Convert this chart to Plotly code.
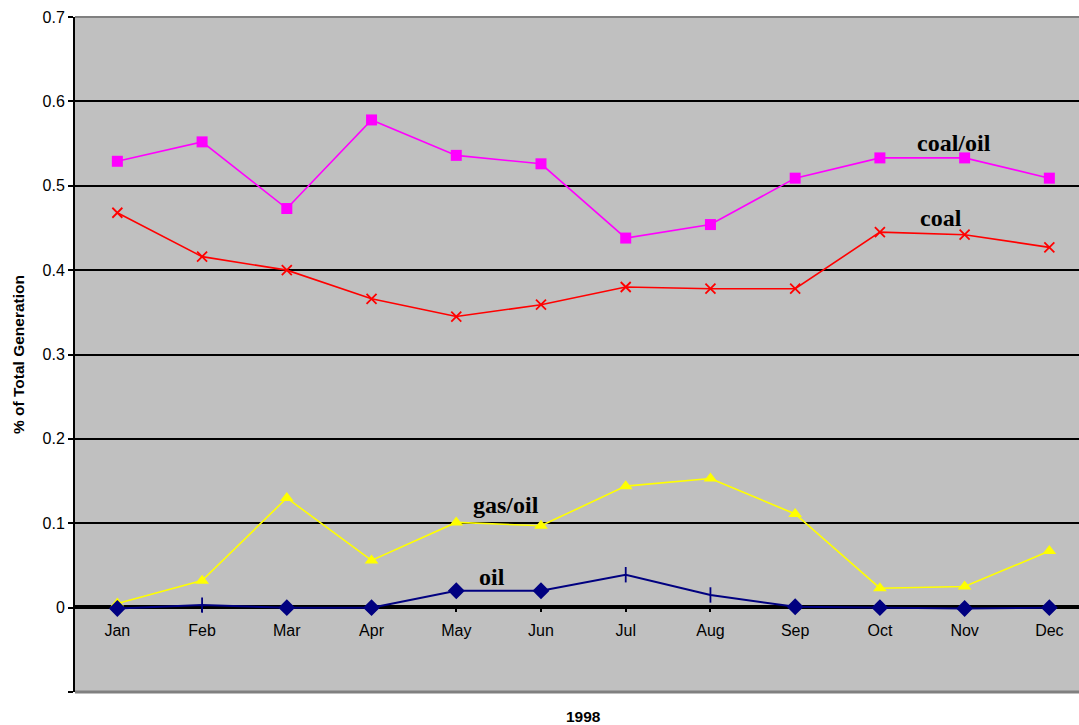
import plotly.graph_objects as go

months = ["Jan", "Feb", "Mar", "Apr", "May", "Jun",
          "Jul", "Aug", "Sep", "Oct", "Nov", "Dec"]

coal_oil = [0.529, 0.552, 0.473, 0.578, 0.536, 0.526,
            0.438, 0.454, 0.509, 0.533, 0.533, 0.509]
coal = [0.468, 0.416, 0.400, 0.366, 0.345, 0.359,
        0.380, 0.378, 0.378, 0.445, 0.442, 0.427]
gas_oil = [0.005, 0.032, 0.130, 0.056, 0.101, 0.097,
           0.144, 0.153, 0.111, 0.023, 0.025, 0.067]
oil = [-0.001, 0.003, 0.000, 0.000, 0.020, 0.020,
       0.039, 0.015, 0.001, 0.000, -0.001, 0.000]

y_ticks = [-0.1, 0, 0.1, 0.2, 0.3, 0.4, 0.5, 0.6, 0.7]
y_tick_text = ["", "0", "0.1", "0.2", "0.3", "0.4", "0.5", "0.6", "0.7"]

x_idx = list(range(len(months)))

# per-point marker shapes for the oil series
oil_symbols = ["diamond", "line-ns", "diamond", "diamond", "diamond", "diamond",
               "line-ns", "line-ns", "diamond", "diamond", "diamond", "diamond"]

fig = go.Figure()

fig.add_trace(go.Scatter(
    x=x_idx, y=coal_oil, mode="lines+markers", name="coal/oil",
    line=dict(color="#FF00FF", width=1.6),
    marker=dict(symbol="square", size=11, color="#FF00FF"),
))
fig.add_trace(go.Scatter(
    x=x_idx, y=coal, mode="lines+markers", name="coal",
    line=dict(color="#FF0000", width=1.6),
    marker=dict(symbol="x-thin", size=10, line=dict(color="#FF0000", width=1.8)),
))
fig.add_trace(go.Scatter(
    x=x_idx, y=gas_oil, mode="lines+markers", name="gas/oil",
    line=dict(color="#FFFF00", width=1.6),
    marker=dict(symbol="triangle-up", size=12, color="#FFFF00"),
))
fig.add_trace(go.Scatter(
    x=x_idx, y=oil, mode="lines+markers", name="oil",
    line=dict(color="#000080", width=2),
    marker=dict(symbol=oil_symbols, size=11, color="#000080",
                line=dict(color="#000080", width=1.8)),
))

label_font = dict(family="Liberation Serif", size=24, color="black")
series_labels = [("coal/oil", 9.88, 0.551), ("coal", 9.72, 0.462),
                 ("gas/oil", 4.59, 0.122), ("oil", 4.42, 0.036)]
for text, xv, yv in series_labels:
    fig.add_annotation(x=xv, y=yv, xref="x", yref="y", text="<b>%s</b>" % text,
                       showarrow=False, font=label_font)

fig.add_annotation(x=0.506, y=-0.037, xref="paper", yref="paper", text="<b>1998</b>",
                   showarrow=False, yanchor="middle",
                   font=dict(family="Liberation Sans", size=15.5, color="black"))

# plot-area frame along top and bottom
fig.add_shape(type="line", xref="paper", yref="paper", x0=0, x1=1, y0=1, y1=1,
              line=dict(color="#808080", width=2), layer="above")
fig.add_shape(type="line", xref="paper", yref="paper", x0=0, x1=1, y0=0, y1=0,
              line=dict(color="#808080", width=3), layer="above")

fig.update_layout(
    width=1079, height=725,
    margin=dict(l=75, r=0, t=17, b=33),
    paper_bgcolor="white",
    plot_bgcolor="#C0C0C0",
    showlegend=False,
    font=dict(family="Liberation Sans", size=16, color="black"),
    xaxis=dict(
        range=[-0.5, 11.35],
        tickvals=x_idx, ticktext=months,
        anchor="free", position=0.1274,
        showline=True, linecolor="black", linewidth=2,
        ticks="outside", ticklen=5, tickwidth=2, tickcolor="black",
        tickson="boundaries",
        ticklabelstandoff=5,
        showgrid=False, zeroline=False,
        layer="below traces",
        tickfont=dict(size=16),
    ),
    yaxis=dict(
        range=[-0.1, 0.7],
        tickvals=y_ticks, ticktext=y_tick_text,
        showline=True, linecolor="black", linewidth=2,
        ticks="outside", ticklen=5, tickwidth=2, tickcolor="black",
        showgrid=True, gridcolor="black", gridwidth=2,
        zeroline=False,
        tickfont=dict(size=16),
        title=dict(text="<b>% of Total Generation</b>",
                   font=dict(size=15.5), standoff=14),
        layer="below traces",
    ),
)

fig.write_html("out.html")
